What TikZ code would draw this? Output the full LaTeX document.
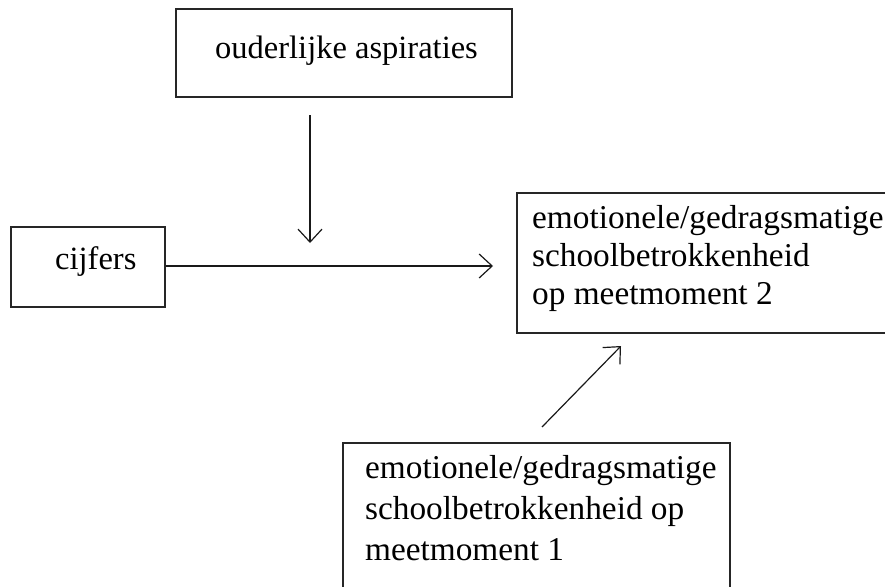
\documentclass[tikz,border=0pt]{standalone}
\usepackage{fontspec}
\setmainfont{Liberation Serif}
\usetikzlibrary{arrows.meta}
\begin{document}
\begin{tikzpicture}[x=1pt,y=-1pt,
  boxnode/.style={draw=black!85, line width=1.6pt, inner sep=0pt, minimum width=#1},
  lbl/.style={anchor=base west, inner sep=0pt, font=\fontsize{32.5}{38}\selectfont, text=black},
  lblb/.style={lbl, font=\fontsize{33.3}{38}\selectfont},
  conn/.style={draw=black!90, line width=1.2pt, -{Straight Barb[length=13pt,width=24pt,line width=1.2pt]}}]
\useasboundingbox (0,0) rectangle (885,586);
% boxes
\node[boxnode=336pt, minimum height=88pt] (top) at (344,53) {};
\node[boxnode=154pt, minimum height=80pt] (cij) at (88,267) {};
\node[boxnode=382pt, minimum height=140pt] (mm2) at (708,263) {};
\node[boxnode=387pt, minimum height=160pt] (mm1) at (536.5,523) {};
% texts
\node[lbl] (ttop) at (215,59) {ouderlijke aspiraties};
\node[lbl] (tcij) at (55,269) {cijfers};
\node[lblb] (tm2a) at (532,228) {emotionele/gedragsmatige};
\node[lblb] (tm2b) at (532,266) {schoolbetrokkenheid};
\node[lblb] (tm2c) at (532,304) {op meetmoment 2};
\node[lblb] (tm1a) at (365,478) {emotionele/gedragsmatige};
\node[lblb] (tm1b) at (365,519) {schoolbetrokkenheid op};
\node[lblb] (tm1c) at (365,560) {meetmoment 1};
% connector end points
\coordinate (vs) at (310,115);
\coordinate (ve) at (310,243);
\coordinate (he) at (493,266);
\coordinate (ds) at (542,427);
\coordinate (de) at (621,346);
% connectors
\draw[conn] (vs) -- (ve);
\draw[conn] (cij.east |- he) -- (he);
\draw[conn] (ds) -- (de);
\end{tikzpicture}
\end{document}
